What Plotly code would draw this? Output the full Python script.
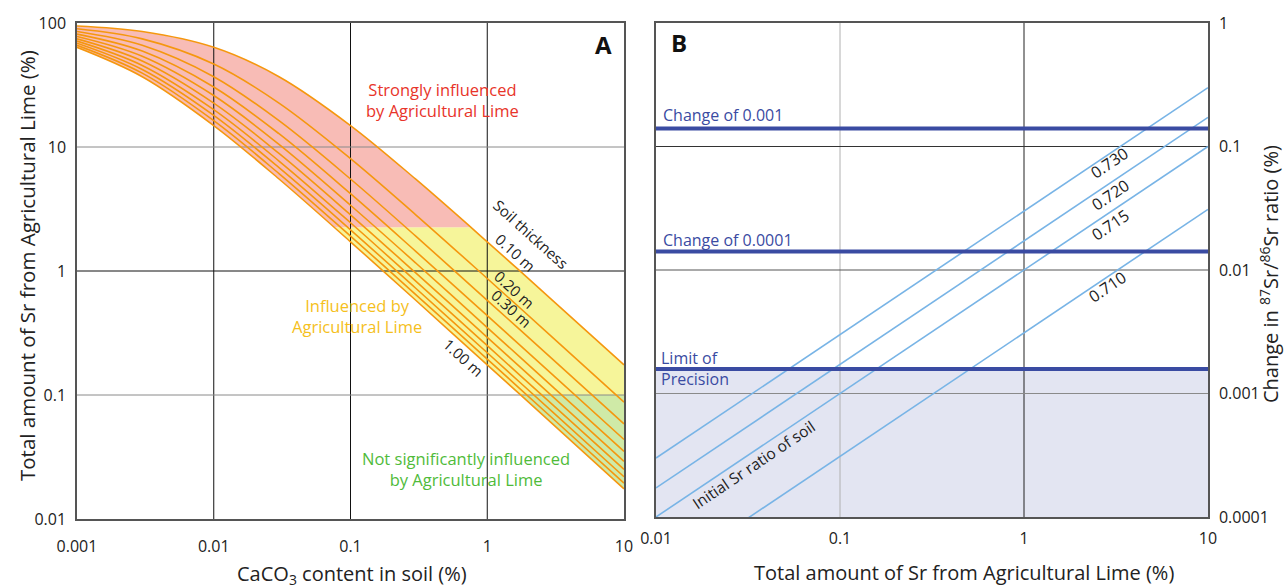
import plotly.graph_objects as go

W, H = 1286, 587
FONT = "Open Sans"

# ---------------- Panel A data ----------------
caco3_pct = [0.001, 0.003, 0.01, 0.03, 0.1, 0.3, 1, 3, 10]
thickness_names = ["0.10 m", "0.20 m", "0.30 m", "0.40 m", "0.50 m",
                   "0.60 m", "0.70 m", "0.80 m", "0.90 m", "1.00 m"]
sr_t010 = [94.6, 85.4, 63.7, 36.9, 14.9, 5.5, 1.72, 0.58, 0.175]
sr_t020 = [89.8, 74.5, 46.7, 22.6, 8.06, 2.84, 0.87, 0.292, 0.0877]
sr_t030 = [85.4, 66.1, 36.9, 16.3, 5.52, 1.91, 0.58, 0.195, 0.0585]
sr_t040 = [81.4, 59.4, 30.5, 12.8, 4.20, 1.44, 0.437, 0.146, 0.0438]
sr_t050 = [77.8, 53.9, 26.0, 10.5, 3.39, 1.16, 0.350, 0.117, 0.0351]
sr_t060 = [74.5, 49.4, 22.6, 8.88, 2.84, 0.965, 0.292, 0.0974, 0.0292]
sr_t070 = [71.5, 45.5, 20.0, 7.71, 2.45, 0.828, 0.250, 0.0835, 0.0251]
sr_t080 = [68.7, 42.2, 18.0, 6.81, 2.15, 0.726, 0.219, 0.0730, 0.0219]
sr_t090 = [66.1, 39.4, 16.3, 6.10, 1.91, 0.646, 0.195, 0.0649, 0.0195]
sr_t100 = [63.7, 36.9, 14.9, 5.52, 1.72, 0.581, 0.175, 0.0585, 0.0175]
curves_a = [sr_t010, sr_t020, sr_t030, sr_t040, sr_t050,
            sr_t060, sr_t070, sr_t080, sr_t090, sr_t100]

strong_threshold = 2.25
not_significant_threshold = 0.1

xa_ticks = [0.001, 0.01, 0.1, 1, 10]
xa_ticktext = ["0.001", "0.01", "0.1", "1", "10"]
ya_ticks = [0.01, 0.1, 1, 10, 100]
ya_ticktext = ["0.01", "0.1", "1", "10", "100"]
xa_range = [0.001, 10]
ya_range = [0.01, 100]

# ---------------- Panel B data ----------------
sr_lime_pct = [0.01, 10]
ratio_names = ["0.730", "0.720", "0.715", "0.710"]
change_r0730 = [0.0003, 0.30]
change_r0720 = [0.000172, 0.172]
change_r0715 = [0.0001, 0.1]
change_r0710 = [0.000031, 0.031]
lines_b = [change_r0730, change_r0720, change_r0715, change_r0710]

change_of_0001 = 0.14
change_of_00001 = 0.0141
limit_of_precision = 0.00158

xb_ticks = [0.01, 0.1, 1, 10]
xb_ticktext = ["0.01", "0.1", "1", "10"]
yb_ticks = [0.0001, 0.001, 0.01, 0.1, 1]
yb_ticktext = ["0.0001", "0.001", "0.01", "0.1", "1"]
xb_range = [0.01, 10]
yb_range = [0.0001, 1]

# ---------------- colours ----------------
RED_FILL = "#f8bcb6"
YEL_FILL = "#f6f59a"
GRN_FILL = "#cfeaa7"
ORANGE = "#f5970f"
LAV = "#e3e5f2"
LBLUE = "#78b4e6"
DBLUE = "#3a4ba2"

fig = go.Figure()


def band(xs, lo, hi, color, xa, ya):
    fig.add_trace(go.Scatter(x=xs, y=[lo] * len(xs), mode="lines",
                             line=dict(width=0, color=color), xaxis=xa, yaxis=ya,
                             hoverinfo="skip", showlegend=False))
    fig.add_trace(go.Scatter(x=xs, y=[hi] * len(xs), mode="lines", fill="tonexty",
                             fillcolor=color, line=dict(width=0, color=color),
                             xaxis=xa, yaxis=ya, hoverinfo="skip", showlegend=False))


def gridline(x, y, color, xa, ya, width=1):
    fig.add_trace(go.Scatter(x=x, y=y, mode="lines", line=dict(color=color, width=width),
                             xaxis=xa, yaxis=ya, hoverinfo="skip", showlegend=False))


# ---- Panel A ----
band(xa_range, ya_range[0], not_significant_threshold, GRN_FILL, "x", "y")
band(xa_range, not_significant_threshold, strong_threshold, YEL_FILL, "x", "y")
band(xa_range, strong_threshold, ya_range[1], RED_FILL, "x", "y")

# white masks outside the family of curves
fig.add_trace(go.Scatter(x=caco3_pct, y=[ya_range[1]] * len(caco3_pct), mode="lines",
                         line=dict(width=0, color="white"), hoverinfo="skip", showlegend=False))
fig.add_trace(go.Scatter(x=caco3_pct, y=curves_a[0], mode="lines", fill="tonexty",
                         fillcolor="white", line=dict(width=0.5, color="white", shape="spline"),
                         hoverinfo="skip", showlegend=False))
fig.add_trace(go.Scatter(x=caco3_pct, y=curves_a[-1], mode="lines",
                         line=dict(width=0.5, color="white", shape="spline"),
                         hoverinfo="skip", showlegend=False))
fig.add_trace(go.Scatter(x=caco3_pct, y=[ya_range[0]] * len(caco3_pct), mode="lines",
                         fill="tonexty", fillcolor="white", line=dict(width=0, color="white"),
                         hoverinfo="skip", showlegend=False))

grid_colors_xa = {0.01: "#111111", 0.1: "#111111", 1: "#111111"}
for v, c in grid_colors_xa.items():
    gridline([v, v], ya_range, c, "x", "y")
grid_colors_ya = {10: "#8a8a8a", 1: "#111111", 0.1: "#8a8a8a"}
for v, c in grid_colors_ya.items():
    gridline(xa_range, [v, v], c, "x", "y")

for name, ys in zip(thickness_names, curves_a):
    fig.add_trace(go.Scatter(x=caco3_pct, y=ys, mode="lines", name=name,
                             line=dict(color=ORANGE, width=1.6, shape="spline"),
                             showlegend=False))

# ---- Panel B ----
band(xb_range, yb_range[0], limit_of_precision, LAV, "x2", "y2")
grid_colors_xb = {0.1: "#b0b0b0", 1: "#222222"}
for v, c in grid_colors_xb.items():
    gridline([v, v], yb_range, c, "x2", "y2")
grid_colors_yb = {0.1: "#333333", 0.01: "#555555", 0.001: "#8a8a8a"}
for v, c in grid_colors_yb.items():
    gridline(xb_range, [v, v], c, "x2", "y2")

for name, ys in zip(ratio_names, lines_b):
    fig.add_trace(go.Scatter(x=sr_lime_pct, y=ys, mode="lines", name=name,
                             line=dict(color=LBLUE, width=1.6), xaxis="x2", yaxis="y2",
                             showlegend=False))

for lvl in [change_of_0001, change_of_00001, limit_of_precision]:
    fig.add_trace(go.Scatter(x=xb_range, y=[lvl, lvl], mode="lines",
                             line=dict(color=DBLUE, width=4), xaxis="x2", yaxis="y2",
                             showlegend=False))

# ---------------- layout ----------------
def px(x):
    return x / W


def py(y):
    return 1 - y / H


axis_common = dict(type="log", showgrid=False, zeroline=False, showline=True, mirror=True,
                   linecolor="#555555", linewidth=1.5, ticks="outside", ticklen=6,
                   tickcolor="rgba(0,0,0,0)", tickfont=dict(size=16, color="#222222", family=FONT),
                   automargin=False, fixedrange=True)

fig.update_layout(
    width=W, height=H,
    margin=dict(l=0, r=0, t=0, b=0),
    paper_bgcolor="white", plot_bgcolor="rgba(0,0,0,0)",
    font=dict(family=FONT, color="#222222"),
    showlegend=False,
    xaxis=dict(axis_common, domain=[px(77), px(624)], range=[-3, 1], anchor="y",
               tickvals=xa_ticks, ticktext=xa_ticktext, ticklen=12),
    yaxis=dict(axis_common, domain=[py(519), py(23)], range=[-2, 2], anchor="x",
               tickvals=ya_ticks, ticktext=ya_ticktext),
    xaxis2=dict(axis_common, domain=[px(656), px(1208)], range=[-2, 1], anchor="y2",
                tickvals=xb_ticks, ticktext=xb_ticktext),
    yaxis2=dict(axis_common, domain=[py(517), py(23)], range=[-4, 0], anchor="x2",
                side="right", tickvals=yb_ticks, ticktext=yb_ticktext),
)

ann = []


def note(text, x, y, size=16, color="#222222", angle=0, align="center", xanchor="center",
         yanchor="middle", bold=False):
    if bold:
        text = "<b>" + text + "</b>"
    ann.append(dict(text=text, x=px(x), y=py(y), xref="paper", yref="paper", showarrow=False,
                    font=dict(size=size, color=color, family=FONT), textangle=angle,
                    align=align, xanchor=xanchor, yanchor=yanchor))


# axis titles
note("CaCO<sub>3</sub> content in soil (%)", 352, 574, size=20)
note("Total amount of Sr from Agricultural Lime (%)", 27, 266, size=20.5, angle=-90)
note("Total amount of Sr from Agricultural Lime (%)", 964, 572, size=20)
note("Change in <sup>87</sup>Sr/<sup>86</sup>Sr ratio (%)", 1270, 274, size=20, angle=-90)

# panel letters
note("A", 603, 45, size=24, color="#111111", bold=True)
note("B", 679, 43, size=24, color="#111111", bold=True)

# panel A labels
note("Strongly influenced<br>by Agricultural Lime", 442, 100, size=16.5, color="#e8342a")
note("Influenced by<br>Agricultural Lime", 357, 316, size=16.5, color="#f5c01c")
note("Not significantly influenced<br>by Agricultural Lime", 466, 469, size=16.5, color="#4fbb3a")
note("Soil thickness", 531, 234, size=15, angle=42)
note("0.10 m", 515, 252, size=15, angle=42)
note("0.20 m", 514, 289, size=15, angle=42)
note("0.30 m", 511, 308, size=15, angle=42)
note("1.00 m", 463, 357, size=15, angle=42)

# panel B labels
note("Change of 0.001", 661, 115, size=16, color=DBLUE, xanchor="left")
note("Change of 0.0001", 661, 240, size=16, color=DBLUE, xanchor="left")
note("Limit of<br>Precision", 659, 368, size=16, color=DBLUE, xanchor="left", align="left")
note("0.730", 1109, 163, size=16, angle=-34)
note("0.720", 1110, 195, size=16, angle=-34)
note("0.715", 1110, 225, size=16, angle=-34)
note("0.710", 1107, 287, size=16, angle=-34)
note("Initial Sr ratio of soil", 753, 465, size=15.5, angle=-34)

fig.update_layout(annotations=ann)

fig.write_html("out.html", config={"displayModeBar": False},
               post_script="document.body.style.margin='0';")
